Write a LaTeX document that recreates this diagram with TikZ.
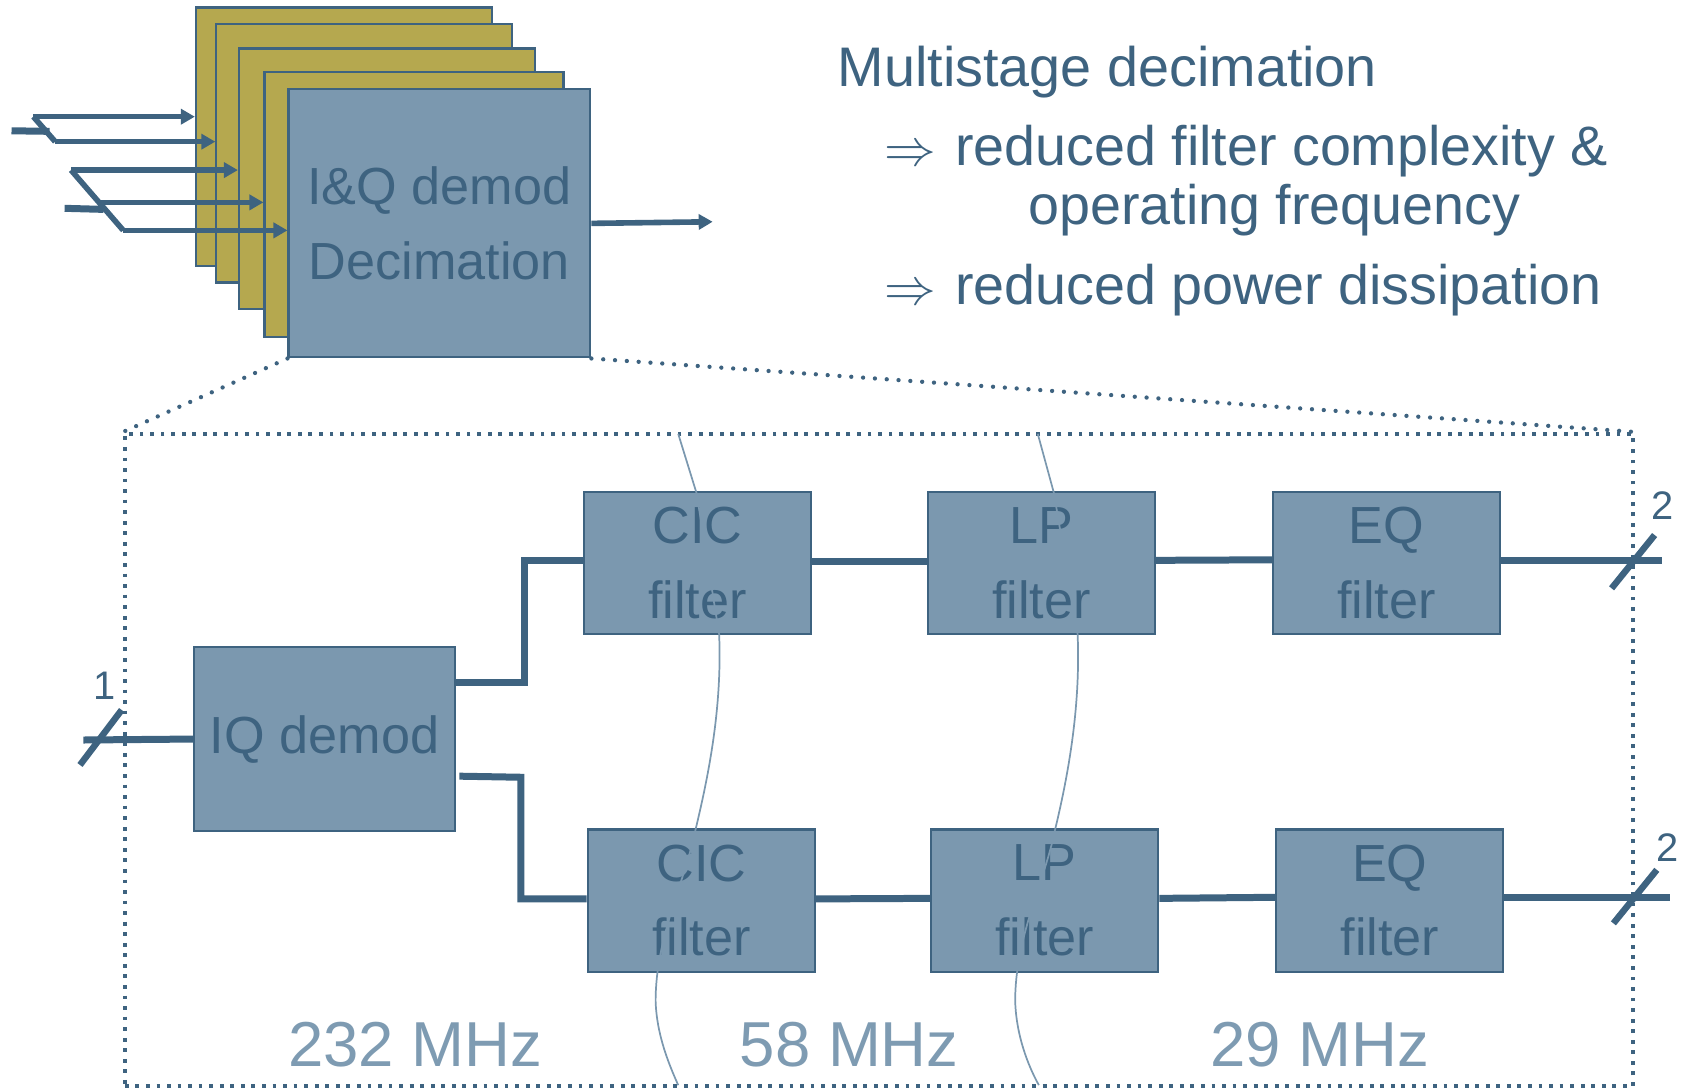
\documentclass[tikz,border=0pt]{standalone}
\usepackage{fontspec}
\usepackage{graphicx}
\setmainfont{Liberation Sans}
\usetikzlibrary{arrows.meta}
\definecolor{dk}{HTML}{3E6380}
\definecolor{bx}{HTML}{7B98AF}
\definecolor{yl}{HTML}{B5A84F}
\definecolor{fq}{HTML}{7E9BB2}
\begin{document}
\begin{tikzpicture}[x=1pt,y=-1pt,
  ybox/.style={draw=dk, fill=yl, line width=2pt, inner sep=0pt},
  bbox/.style={draw=dk, fill=bx, line width=2pt, inner sep=0pt, align=center, text=dk,
     font=\fontsize{48.5}{69.5}\selectfont},
  fbox/.style={bbox, minimum width=211pt, minimum height=132pt},
  arr/.style={draw=dk, line width=5.2pt, -{Triangle[length=13pt,width=14pt]}},
  thin/.style={draw=dk, line width=5.2pt},
  wire/.style={draw=dk, line width=6.5pt},
  slashln/.style={draw=dk, line width=6pt},
  rdots/.style={draw=dk, line width=4pt, dash pattern=on 0pt off 11pt, line cap=round},
  bound/.style={draw=bx, line width=1.6pt},
  lbl/.style={text=dk, font=\fontsize{37}{40}\selectfont, inner sep=0pt},
  freq/.style={text=fq, font=\fontsize{59}{65}\selectfont, anchor=base west, inner sep=0pt},
  txt/.style={text=dk, anchor=base west, inner sep=0pt}]
\useasboundingbox (0,0) rectangle (1568,1011);

% ---- stacked decimation blocks
\node[ybox, minimum width=275pt, minimum height=240pt] (y1) at (319.5,127) {};
\node[ybox, minimum width=274.6pt, minimum height=240pt] (y2) at (338.3,142.4) {};
\node[ybox, minimum width=275pt, minimum height=242pt] (y3) at (359.5,166) {};
\node[ybox, minimum width=277.8pt, minimum height=246.4pt] (y4) at (384.6,189.8) {};
\node[bbox, minimum width=280.3pt, minimum height=249pt] (blk) at (408.2,207.5) {I\&Q demod\\Decimation};

% input bus A
\coordinate (inA) at (10.7,121.5);
\coordinate (inAe) at (46,122);
\coordinate (sAt) at (31,108.4);
\coordinate (sAb) at (51.3,131.6);
\draw[wire, line width=6.5pt] (inA) -- (inAe);
\draw[thin] (sAt) -- (sAb);
\draw[arr] (sAt) -- (sAt -| y1.west);
\draw[arr] (sAb) -- (sAb -| y2.west);
% input bus B
\coordinate (inB) at (60,193.5);
\coordinate (inBe) at (96,194.5);
\coordinate (sBt) at (66,158);
\coordinate (sBm) at (92,188);
\coordinate (sBb) at (114.5,214);
\draw[wire, line width=6.5pt] (inB) -- (inBe);
\draw[thin] (sBt) -- (sBb);
\draw[arr] (sBt) -- (sBt -| y3.west);
\draw[arr] (sBm) -- (sBm -| y4.west);
\draw[arr] (sBb) -- (sBb -| blk.west);
% output
\coordinate (outA) at (662,206);
\draw[arr] (blk.east) -- (outA);

% ---- text
\node[txt, font=\fontsize{51.8}{60}\selectfont] (t1) at (778,80) {Multistage decimation};
\node[txt] (r1) at (821,153.3) {\scalebox{4.8}{$\Rightarrow$}};
\node[txt, font=\fontsize{51.7}{60}\selectfont] (t2) at (887,153.3) {reduced filter complexity \&};
\node[txt, font=\fontsize{51.7}{60}\selectfont] (t3) at (955,208.4) {operating frequency};
\node[txt] (r2) at (821,283.3) {\scalebox{4.8}{$\Rightarrow$}};
\node[txt, font=\fontsize{51.7}{60}\selectfont] (t4) at (887,283.3) {reduced power dissipation};

% ---- zoomed region
\node[draw=dk, line width=3.5pt, dash pattern=on 3.5pt off 6.3pt, minimum width=1401pt,
      minimum height=606pt, inner sep=0pt] (zr) at (816.5,706) {};
\draw[rdots] (blk.south west) -- (zr.north west);
\draw[rdots] (blk.south east) -- (zr.north east);

\node[bbox, minimum width=242.5pt, minimum height=170.3pt] (iq) at (301.5,686.5) {IQ demod};
\node[fbox] (cic1) at (648,523) {CIC\\filter};
\node[fbox] (lp1) at (967.5,523) {LP\\filter};
\node[fbox] (eq1) at (1288,523) {EQ\\filter};
\node[fbox] (cic2) at (651.5,836.5) {CIC\\filter};
\node[fbox] (lp2) at (970.5,836.5) {LP\\filter};
\node[fbox] (eq2) at (1291,836.5) {EQ\\filter};

% wires
\coordinate (in1) at (77.4,687.4);
\draw[wire] (in1) -- (iq.west);
\coordinate (sl1a) at (74.3,710.6);
\coordinate (sl1b) at (113,659.5);
\draw[slashln] (sl1a) -- (sl1b);
\node[lbl] (n1) at (97.5,637) {1};

\draw[wire] ([yshift=52.5pt]iq.east) -- ++(63,0) |- ([yshift=2pt]cic1.west);
\draw[wire] ([xshift=3pt,yshift=-34.5pt]iq.east) -- ++(57,1) |- ([yshift=1.5pt]cic2.west);
\draw[wire] ([yshift=1.5pt]cic1.east) -- ([yshift=1.5pt]lp1.west);
\draw[wire] ([yshift=2.5pt]lp1.east) -- ([yshift=3pt]eq1.west);
\draw[wire] ([yshift=1.5pt]cic2.east) -- ([yshift=2pt]lp2.west);
\draw[wire] ([yshift=2pt]lp2.east) -- ([yshift=3pt]eq2.west);

\coordinate (o1) at (1543.6,521);
\draw[wire] ([yshift=2pt]eq1.east) -- (o1);
\coordinate (s2a) at (1497,546.5);
\coordinate (s2b) at (1537,497);
\draw[slashln] (s2a) -- (s2b);
\node[lbl] (n2) at (1544,469.7) {2};

\coordinate (o2) at (1551,834);
\draw[wire] ([yshift=2.5pt]eq2.east) -- (o2);
\coordinate (s3a) at (1498.7,857.7);
\coordinate (s3b) at (1539,808);
\draw[slashln] (s3a) -- (s3b);
\node[lbl] (n3) at (1549,787.4) {2};

% frequencies
\node[freq] (f1) at (267.5,991) {232 MHz};
\node[freq] (f2) at (687,991) {58 MHz};
\node[freq] (f3) at (1124,991) {29 MHz};

% clock domain boundaries
\draw[bound] (630,403) -- (647,458) -- (668,589)
   .. controls (671,660) and (657,725) .. (646,771)
   .. controls (636,820) and (609,870) .. (609,930)
   .. controls (610,962) and (622,990) .. (630,1008);
\draw[bound] (964,403) -- (979,458) -- (1001,589)
   .. controls (1004,660) and (991,725) .. (980,771)
   .. controls (970,820) and (943,870) .. (943,930)
   .. controls (944,962) and (955,990) .. (965,1008);
\end{tikzpicture}
\end{document}
